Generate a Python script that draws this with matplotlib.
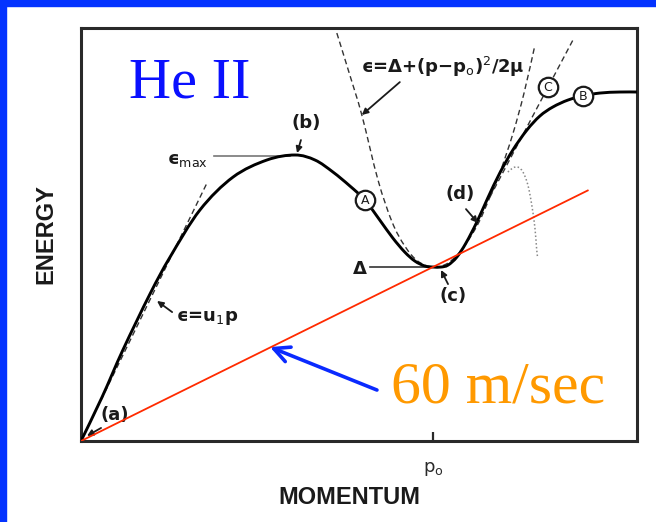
import matplotlib
matplotlib.use("Agg")
import matplotlib.pyplot as plt
import numpy as np
from matplotlib.patches import Rectangle, PathPatch
from matplotlib.path import Path

plt.rcParams["mathtext.fontset"] = "dejavusans"

# Helium II excitation spectrum (momentum in units of p0, energy in units of Delta)
curve_p = [0.000, 0.060, 0.119, 0.196, 0.253, 0.338, 0.432, 0.528, 0.608, 0.665,
           0.716, 0.764, 0.807, 0.849, 0.886, 0.920, 0.949, 0.977, 1.000, 1.023,
           1.043, 1.068, 1.094, 1.125, 1.156, 1.190, 1.227, 1.267, 1.304, 1.341,
           1.384, 1.426, 1.474, 1.531, 1.580]
curve_e = [0.000, 0.253, 0.523, 0.845, 1.057, 1.328, 1.517, 1.615, 1.644, 1.615,
           1.546, 1.466, 1.385, 1.270, 1.167, 1.086, 1.034, 1.006, 1.000, 1.000,
           1.011, 1.057, 1.138, 1.259, 1.397, 1.540, 1.672, 1.787, 1.868, 1.920,
           1.960, 1.983, 2.000, 2.006, 2.006]

# roton parabola eps = Delta + (p - p0)^2 / 2mu
roton_p = [0.727, 0.764, 0.798, 0.844, 0.884, 0.920, 0.957, 1.000,
           1.043, 1.085, 1.128, 1.162, 1.190, 1.227, 1.259, 1.290]
roton_e = [2.345, 2.103, 1.874, 1.500, 1.259, 1.121, 1.034, 1.000,
           1.023, 1.109, 1.247, 1.402, 1.540, 1.764, 2.000, 2.276]

# phonon line eps = u1 p
phonon_p = [0.000, 0.358]
phonon_e = [0.000, 1.483]

# tangent through the inflection (C)
tangent_p = [1.162, 1.398]
tangent_e = [1.402, 2.305]

# dotted branch
dotted_p = [1.213, 1.227, 1.241, 1.256, 1.270, 1.281, 1.290, 1.295, 1.298]
dotted_e = [1.546, 1.569, 1.575, 1.546, 1.471, 1.356, 1.224, 1.098, 1.052]

# Landau critical velocity line (60 m/sec)
landau_p = [0.0, 1.44]
landau_e = [0.0, 1.44]

p0_tick = [1.0]
p0_label = ["p$_\\mathrm{o}$"]


def smooth_path(xs, ys):
    """Cubic Bezier path through the given points (Catmull-Rom tangents)."""
    pts = np.column_stack([xs, ys]).astype(float)
    n = len(pts)
    verts = [pts[0]]
    codes = [Path.MOVETO]
    for i in range(n - 1):
        p0 = pts[i - 1] if i > 0 else pts[i]
        p1 = pts[i]
        p2 = pts[i + 1]
        p3 = pts[i + 2] if i + 2 < n else pts[i + 1]
        c1 = p1 + (p2 - p0) / 6.0
        c2 = p2 - (p3 - p1) / 6.0
        verts += [c1, c2, p2]
        codes += [Path.CURVE4] * 3
    return Path(verts, codes)


W, H = 656, 522
fig = plt.figure(figsize=(W / 100, H / 100), dpi=100)
fig.patch.set_facecolor("white")
blue = "#0433ff"
fig.patches.append(Rectangle((0, 1 - 6 / H), 1, 6 / H, transform=fig.transFigure,
                             color=blue, zorder=0))
fig.patches.append(Rectangle((0, 0), 6 / W, 1, transform=fig.transFigure,
                             color=blue, zorder=0))

ax = fig.add_axes([81 / W, 1 - 441 / H, (637 - 81) / W, (441 - 28) / H])
ax.set_xlim(0, 1.580)
ax.set_ylim(0, 2.374)
for s in ax.spines.values():
    s.set_linewidth(2.2)
    s.set_color("#2a2a2a")
ax.set_yticks([])
ax.set_xticks(p0_tick)
ax.set_xticklabels(p0_label, fontsize=13, family="DejaVu Sans")
ax.tick_params(axis="x", direction="in", length=6.5, width=1.6, pad=14, colors="#2a2a2a")

lab = dict(family="DejaVu Sans", fontsize=13, fontweight="bold", color="#1a1a1a",
           ha="center", va="center")
arr = dict(arrowstyle="-|>", color="#1a1a1a", lw=1.3, mutation_scale=9,
           shrinkA=0, shrinkB=0)
dash = dict(color="#333333", lw=1.0, ls=(0, (4, 2.5)), fill=False)

ax.add_patch(PathPatch(smooth_path(roton_p, roton_e), **dash))
ax.plot(phonon_p, phonon_e, ls=(0, (4, 2.5)), color="#333333", lw=1.0)
ax.plot(tangent_p, tangent_e, ls=(0, (4, 2.5)), color="#333333", lw=1.0)
ax.add_patch(PathPatch(smooth_path(dotted_p, dotted_e), fill=False,
                       ls=(0, (1, 1.5)), color="#888888", lw=1.1))
ax.add_patch(PathPatch(smooth_path(curve_p, curve_e), fill=False,
                       color="black", lw=2.1, capstyle="round", zorder=3))

# epsilon_max and Delta reference lines
ax.plot([0.378, 0.594], [curve_e[8] - 0.006] * 2, color="#777777", lw=1.2)
ax.plot([0.821, 0.986], [curve_e[18]] * 2, color="#333333", lw=1.2)

ax.plot(landau_p, landau_e, color="#ff2a00", lw=1.3, zorder=4)

# circled markers A, C, B
for (px, py, t) in [(0.807, 1.385, "A"), (1.327, 2.034, "C"), (1.426, 1.983, "B")]:
    ax.plot([px], [py], "o", ms=14, mfc="white", mec="#1a1a1a", mew=1.6, zorder=5)
    ax.text(px, py, t, family="DejaVu Sans", fontsize=9, color="#1a1a1a",
            ha="center", va="center", zorder=6)

ax.text(0.639, 1.828, "(b)", **lab)
ax.annotate("", xy=(0.614, 1.655), xytext=(0.625, 1.730), arrowprops=arr)
ax.text(0.301, 1.615, "ϵ$_{\\mathrm{max}}$", **lab)
ax.text(0.358, 0.707, "ϵ=u$_1$p", **lab)
ax.annotate("", xy=(0.216, 0.805), xytext=(0.259, 0.741), arrowprops=arr)
ax.text(0.097, 0.149, "(a)", **lab)
ax.annotate("", xy=(0.017, 0.029), xytext=(0.057, 0.075), arrowprops=arr)
ax.text(1.028, 2.149, "ϵ=Δ+(p−p$_\\mathrm{o}$)$^2$/2μ", **lab)
ax.annotate("", xy=(0.798, 1.874), xytext=(0.906, 2.063), arrowprops=arr)
ax.text(1.077, 1.420, "(d)", **lab)
ax.annotate("", xy=(1.128, 1.253), xytext=(1.094, 1.333), arrowprops=arr)
ax.text(0.793, 0.989, "Δ", **lab)
ax.text(1.057, 0.833, "(c)", **lab)
ax.annotate("", xy=(1.023, 0.983), xytext=(1.043, 0.902), arrowprops=arr)

ax.text(0.310, 2.057, "He II", family="Liberation Serif", fontsize=42,
        color="#0a10ff", ha="center", va="center")
ax.text(1.185, 0.299, "60 m/sec", family="Liberation Serif", fontsize=43,
        color="#ff9900", ha="center", va="center")
ax.annotate("", xy=(0.537, 0.540), xytext=(0.841, 0.293),
            arrowprops=dict(arrowstyle="->", color="#0a2aff", lw=2.6,
                            mutation_scale=28, shrinkA=0, shrinkB=0))

fig.text(46 / W, 1 - 234 / H, "ENERGY", rotation=90, family="Liberation Sans",
         fontsize=17, fontweight="bold", color="#1a1a1a", ha="center", va="center")
fig.text(349 / W, 1 - 497 / H, "MOMENTUM", family="Liberation Sans",
         fontsize=17, fontweight="bold", color="#1a1a1a", ha="center", va="center")

fig.savefig("out.png", dpi=100, facecolor="white")
